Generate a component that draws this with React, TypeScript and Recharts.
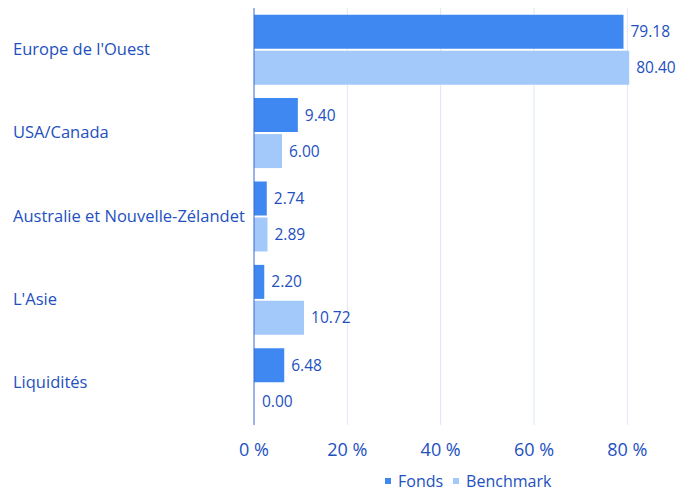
import React from 'react';
import { BarChart, Bar, XAxis, YAxis, CartesianGrid, Legend, LabelList, Cell } from 'recharts';

const regions = ['Europe de l\'Ouest', 'USA/Canada', 'Australie et Nouvelle-Zélandet', 'L\'Asie', 'Liquidités'];
const fonds = [79.18, 9.4, 2.74, 2.2, 6.48];
const benchmark = [80.4, 6.0, 2.89, 10.72, 0.0];
const xTicks = [0, 20, 40, 60, 80];

const data = regions.map((name, i) => ({ name, fonds: fonds[i], benchmark: benchmark[i] }));

const TEXT = '#2350c0';
const FONT = '"Open Sans", "Noto Sans", sans-serif';
const FONDS_COLOR = '#3f88f2';
const BENCH_COLOR = '#a3c9fb';

const CategoryTick = (props: any) => {
  const { y, payload } = props;
  return (
    <text x={5} y={y} dy={5} textAnchor="start" fill={TEXT} fontSize={16.5} fontFamily={FONT}>
      {payload.value}
    </text>
  );
};

const renderLegend = () => (
  <div style={{ display: 'flex', alignItems: 'center', fontFamily: FONT, fontSize: 16, color: TEXT }}>
    <span style={{ width: 6, height: 6, background: FONDS_COLOR, display: 'inline-block', marginRight: 7 }} />
    <span style={{ marginRight: 10 }}>Fonds</span>
    <span style={{ width: 6, height: 6, background: BENCH_COLOR, display: 'inline-block', marginRight: 7 }} />
    <span>Benchmark</span>
  </div>
);

const fmt = (v: number) => Number(v).toFixed(2);

export default function App() {
  return (
    <BarChart
      width={675}
      height={488}
      data={data}
      layout="vertical"
      margin={{ top: 0, right: 9, left: 0, bottom: 0 }}
      barCategoryGap="8%"
      barGap={2}
    >
      <CartesianGrid horizontal={false} verticalValues={xTicks.slice(1)} stroke="#dce7f5" />
      <XAxis
        type="number"
        domain={[0, 90]}
        ticks={xTicks}
        tickFormatter={(v: number) => `${v} %`}
        axisLine={false}
        tickLine={false}
        tick={{ fill: TEXT, fontSize: 18, fontFamily: FONT }}
        tickMargin={12}
        height={49}
      />
      <YAxis
        type="category"
        dataKey="name"
        width={246}
        axisLine={{ stroke: '#3566d0' }}
        tickLine={false}
        tick={<CategoryTick />}
      />
      <Legend content={renderLegend} wrapperStyle={{ left: 377, bottom: 4, width: 220 }} />
      <Bar dataKey="fonds" fill={FONDS_COLOR} isAnimationActive={false}>
        <LabelList dataKey="fonds" position="right" offset={7} formatter={fmt} fill={TEXT} fontSize={15.5} fontFamily={FONT} />
      </Bar>
      <Bar dataKey="benchmark" fill={BENCH_COLOR} minPointSize={1} isAnimationActive={false}>
        {benchmark.map((v, i) => (
          <Cell key={i} fill={v === 0 ? 'transparent' : BENCH_COLOR} />
        ))}
        <LabelList dataKey="benchmark" position="right" offset={7} formatter={fmt} fill={TEXT} fontSize={15.5} fontFamily={FONT} />
      </Bar>
    </BarChart>
  );
}
